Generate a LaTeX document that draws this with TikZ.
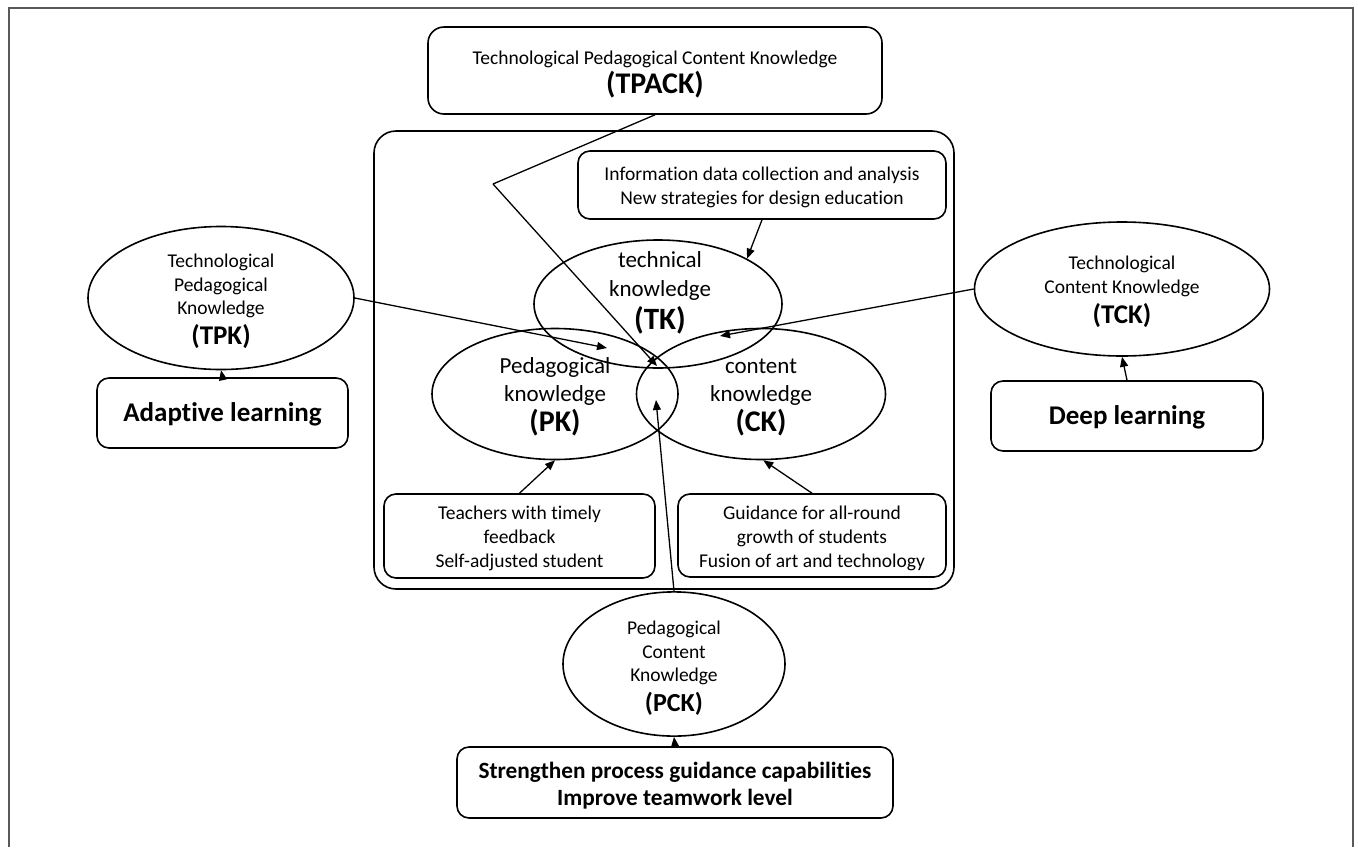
\documentclass[tikz,border=0pt]{standalone}
\usepackage{fontspec}
\setmainfont{Carlito}[Ligatures=NoCommon]
\usetikzlibrary{shapes.geometric,arrows.meta}
\newcommand{\pd}[1]{\rule{0pt}{\dimexpr\fontcharht\font`\l+#1\relax}}
\begin{document}
\begin{tikzpicture}[x=1pt,y=-1pt,
  shape line/.style={draw=black, line width=1.6pt},
  rbox/.style={shape line, rectangle, rounded corners=12pt, inner sep=0pt, align=center,
    font=\fontsize{19.5}{24}\selectfont},
  bigbox/.style={rbox, font=\bfseries\fontsize{27}{30}\selectfont},
  ell/.style={shape line, ellipse, inner sep=0pt, align=center},
  small/.style={font=\fontsize{19.5}{23.5}\selectfont},
  mid/.style={font=\fontsize{23}{28}\selectfont},
  conn/.style={draw=black, line width=1.3pt, -{Triangle[length=10pt,width=8pt]}},
  plain conn/.style={draw=black, line width=1.3pt},
  frame/.style={draw=black!65, line width=2pt}
]
\useasboundingbox (0,0) rectangle (1358,847);
\draw[frame] (9,847) -- (9,8) -- (1353,8) -- (1353,847);

% top TPACK box
\node[rbox, rounded corners=16pt, minimum width=454pt, minimum height=87pt] (tpack) at (655,70.5)
  {\pd{8pt}Technological Pedagogical Content Knowledge\\[3pt]{\bfseries\fontsize{30}{30}\selectfont (TPACK)}};

% inner frame
\node[shape line, rectangle, rounded corners=22pt, minimum width=580pt, minimum height=458pt] (inner) at (664,360) {};

% info box
\node[rbox, minimum width=368pt, minimum height=68pt] (info) at (762,185)
  {\pd{4pt}Information data collection and analysis\\New strategies for design education};

% three ellipses
\node[ell, minimum width=248pt, minimum height=128pt] (tk) at (658,304) {};
\node[align=center, font=\fontsize{23}{29}\selectfont] (tktext) at (660,292.5)
  {technical\\knowledge\\[4pt]{\bfseries\fontsize{31}{31}\selectfont (TK)}};
\node[ell, mid, minimum width=246pt, minimum height=131pt] (pk) at (555,394)
  {\pd{6pt}Pedagogical\\knowledge\\[2pt]{\bfseries\fontsize{30}{30}\selectfont (PK)}};
\node[ell, mid, minimum width=249pt, minimum height=131pt] (ck) at (761,394)
  {\pd{6pt}content\\knowledge\\[2pt]{\bfseries\fontsize{30}{30}\selectfont (CK)}};

% bottom boxes in inner frame
\node[rbox, minimum width=271pt, minimum height=84pt] (teach) at (519.5,536)
  {\pd{5pt}Teachers with timely\\feedback\\Self-adjusted student};
\node[rbox, minimum width=268pt, minimum height=83pt] (guid) at (812,535.5)
  {\pd{5pt}Guidance for all-round\\growth of students\\Fusion of art and technology};

% side ellipses
\node[ell, small, minimum width=266pt, minimum height=118pt] (tpk) at (221,298)
  {\pd{7pt}Technological\\Pedagogical\\Knowledge\\[6pt]{\bfseries\fontsize{27}{28}\selectfont (TPK)}};
\node[ell, small, minimum width=295pt, minimum height=134pt] (tck) at (1122,289)
  {\pd{6pt}Technological\\Content Knowledge\\[7pt]{\bfseries\fontsize{27}{28}\selectfont (TCK)}};
\node[ell, small, minimum width=222pt, minimum height=116pt] (pck) at (674,664)
  {\pd{8pt}Pedagogical\\Content\\Knowledge\\[6pt]{\bfseries\fontsize{26}{28}\selectfont (PCK)}};

% bottom / side boxes
\node[bigbox, minimum width=251pt, minimum height=70pt] (adapt) at (222.5,413) {\pd{3pt}Adaptive learning};
\node[bigbox, minimum width=272pt, minimum height=70pt] (deep) at (1127,416) {\pd{3pt}Deep learning};
\node[rbox, font=\bfseries\fontsize{23.3}{27}\selectfont, minimum width=436pt, minimum height=71pt] (streng) at (675,782.5)
  {\pd{6pt}Strengthen process guidance capabilities\\Improve teamwork level};

% free ends
\coordinate (bend) at (493,184);
\coordinate (tpacktip) at (657,366);
\coordinate (pcktip) at (656,400);
\coordinate (tpktip) at (607,348);
\coordinate (tcktip) at (720,336);

% connectors
\draw[plain conn] (tpack.south) -- (bend);
\draw[conn] (bend) -- (tpacktip);
\draw[conn] (pck.north) -- (pcktip);
\draw[conn] (tpk.east) -- (tpktip);
\draw[conn] (tck.west) -- (tcktip);
\draw[conn] (info.south) -- (tk.27);
\draw[conn] (teach.north) -- (pk.south);
\draw[conn] (guid.north) -- (ck.-88);
\draw[conn] (streng.north) -- (pck.south);
\draw[conn] (adapt.north) -- (tpk.south);
\draw[conn] (deep.north) -- (tck.south);
\end{tikzpicture}
\end{document}
